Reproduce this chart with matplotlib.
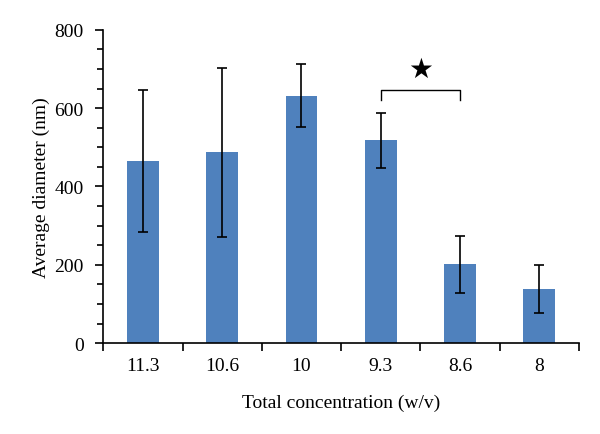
import numpy as np
import matplotlib
matplotlib.use('Agg')
import matplotlib.pyplot as plt
from matplotlib.ticker import MultipleLocator

plt.rcParams['font.family'] = ['Liberation Serif', 'DejaVu Serif']

categories = ['11.3', '10.6', '10', '9.3', '8.6', '8']
diameter = [466, 487, 632, 518, 201, 139]
err = [181, 215, 80, 70, 73, 61]

fig = plt.figure(figsize=(6.0, 4.35), dpi=100)
ax = fig.add_axes([0.172, 0.209, 0.793, 0.72])

x = np.arange(len(categories))
ax.bar(x, diameter, width=0.4, color='#4F81BD', zorder=2)
ax.errorbar(x, diameter, yerr=err, fmt='none', ecolor='black', elinewidth=1.2,
            capsize=3.5, capthick=1.2, zorder=3)

# significance bracket between 9.3 and 8.6
by = 647
ax.plot([3, 3, 4, 4], [by - 26, by, by, by - 26], color='black', lw=1.0)
ax.text(3.5, 700, '\u2605', ha='center', va='center', fontsize=20,
        family=['DejaVu Sans'])

ax.set_xlim(-0.5, 5.5)
ax.set_ylim(0, 800)
ax.set_xticks(x)
ax.set_xticklabels(categories, fontsize=14)
ax.set_xticks(np.arange(-0.5, 6.0, 1.0), minor=True)
ax.tick_params(axis='x', which='major', length=0, pad=10)
ax.tick_params(axis='x', which='minor', length=6, width=1.2, direction='out')
ax.yaxis.set_major_locator(MultipleLocator(200))
ax.yaxis.set_minor_locator(MultipleLocator(50))
ax.tick_params(axis='y', which='both', length=6, width=1.2, direction='out',
               labelsize=14, pad=8)
ax.tick_params(axis='y', which='minor', length=4)

for s in ['top', 'right']:
    ax.spines[s].set_visible(False)
for s in ['left', 'bottom']:
    ax.spines[s].set_linewidth(1.2)

ax.set_xlabel('Total concentration (w/v)', fontsize=14, labelpad=14)
ax.set_ylabel('Average diameter (nm)', fontsize=14, labelpad=3)

plt.savefig('out.png', dpi=100)
plt.close()
